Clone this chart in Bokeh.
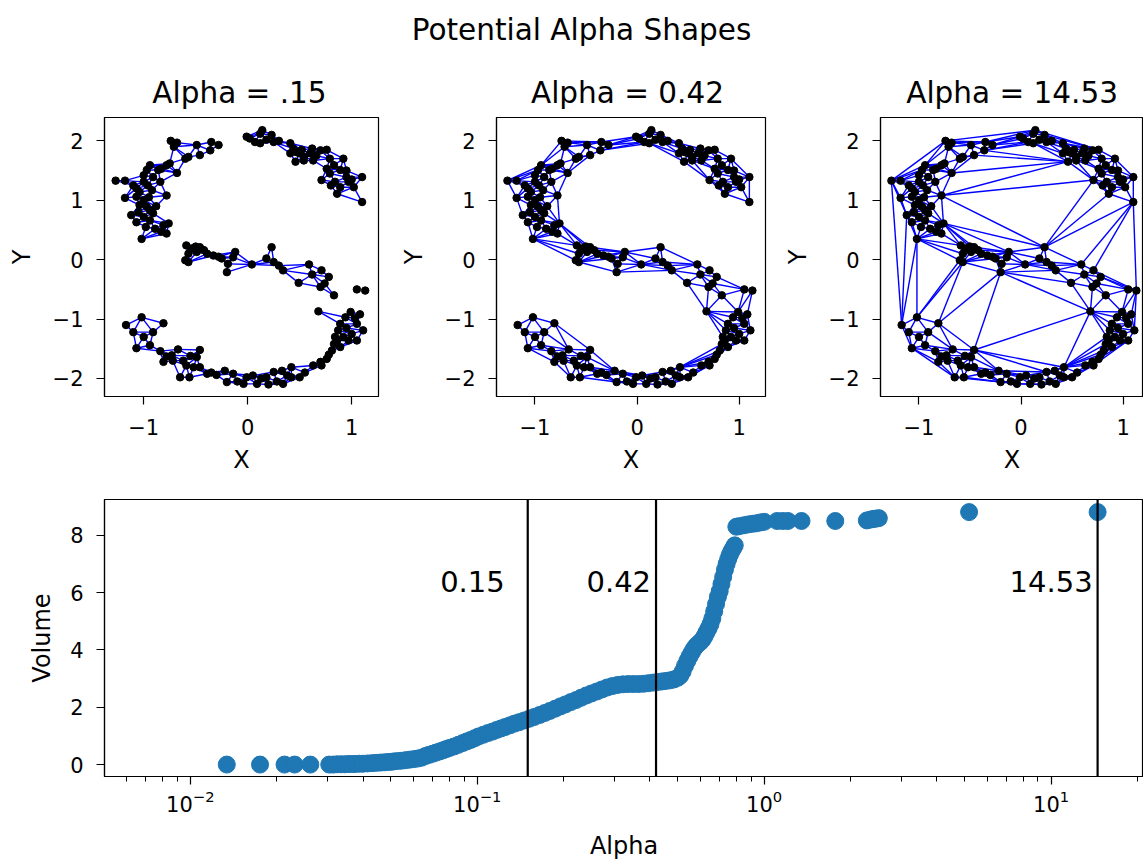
import math
from bokeh.plotting import figure
from bokeh.layouts import column, row
from bokeh.models import Range1d, FixedTicker, Span, LogTickFormatter, ColumnDataSource
from bokeh.core.properties import value
from bokeh.embed import file_html
from bokeh.resources import INLINE

FONT = "DejaVu Sans"

# ---------------- data: S-shaped point cloud ----------------
UL_X = [-0.74, -0.68, -0.71, -0.49, -0.46, -0.35, -0.28, -0.36, -0.57, -0.60, -0.75, -0.78, -0.94, -0.97, -0.86,
        -0.83, -0.68, -1.00, -0.91, -0.84, -1.27, -1.18, -1.00, -0.96, -1.07, -1.04, -0.92, -1.18, -0.78, -1.07,
        -1.00, -1.04, -0.97, -0.94, -0.91, -1.12, -1.00, -0.94, -1.07, -0.81, -0.76, -0.78, -0.83, -1.02, -0.89,
        -1.10, -0.95, -0.88, -1.05, -0.98]
UL_Y = [2.00, 1.97, 1.90, 1.93, 1.76, 1.98, 1.93, 1.84, 1.73, 1.70, 1.62, 1.59, 1.59, 1.51, 1.51,
        1.53, 1.46, 1.42, 1.39, 1.31, 1.33, 1.33, 1.31, 1.25, 1.20, 1.14, 1.17, 1.04, 1.08, 1.06,
        1.00, 0.92, 0.89, 0.83, 0.78, 0.75, 0.72, 0.66, 0.63, 0.58, 0.61, 0.44, 0.47, 0.35, 0.52,
        1.25, 1.05, 0.90, 0.80, 0.55]

UR_X = [0.14, 0.12, -0.01, 0.02, 0.07, 0.12, 0.18, 0.25, 0.23, 0.41, 0.44, 0.47, 0.41, 0.50, 0.54,
        0.62, 0.60, 0.70, 0.76, 0.63, 0.46, 0.54, 0.79, 0.92, 0.83, 0.76, 0.79, 0.89, 0.95, 1.10,
        0.71, 0.84, 0.97, 1.02, 0.89, 0.86, 1.10, 0.30, 0.52, 0.66, 0.95, 1.00, 0.80]
UR_Y = [2.18, 2.12, 2.07, 2.04, 1.98, 1.96, 2.02, 1.98, 2.10, 1.96, 1.87, 1.81, 1.79, 1.79, 1.73,
        1.87, 1.79, 1.84, 1.85, 1.67, 1.65, 1.67, 1.70, 1.70, 1.59, 1.53, 1.45, 1.51, 1.39, 1.39,
        1.34, 1.31, 1.31, 1.22, 1.22, 1.11, 0.97, 2.00, 1.85, 1.75, 1.50, 1.35, 1.25]

MID_X = [-0.59, -0.54, -0.46, -0.49, -0.57, -0.39, -0.33, -0.60, -0.57, -0.25, -0.12, -0.14, -0.19, -0.20, 0.04,
         0.23, 0.18, 0.25, 0.34, 0.59, 0.49, 0.71, 0.78, 0.70, 0.83, 1.05, 1.13, -0.50, -0.42, -0.28,
         0.30, 0.62, 0.74]
MID_Y = [0.24, 0.19, 0.21, 0.13, 0.10, 0.10, 0.07, -0.01, -0.04, 0.02, 0.13, 0.04, -0.07, -0.21, -0.08,
         0.21, 0.02, -0.04, -0.18, -0.08, -0.39, -0.18, -0.29, -0.46, -0.60, -0.50, -0.52, 0.22, 0.16, 0.05,
         -0.10, -0.25, -0.40]

LO_X = [-1.02, -1.17, -0.81, -1.10, -0.91, -1.00, -1.07, -0.94, -0.84, -0.67, -0.46, -0.78, -0.73, -0.81, -0.62,
        -0.59, -0.49, -0.52, -0.46, -0.65, -0.56, -0.39, -0.30, -0.22, -0.20, -0.14, -0.04, -0.01, 0.05, 0.09,
        0.18, 0.20, 0.25, 0.33, 0.34, 0.42, 0.42, 0.50, 0.63, 0.71, 0.76, 0.81, 0.83, 0.84, 0.87,
        0.89, 0.94, 0.99, 1.08, 1.05, 1.11, 1.00, 1.05, 0.97, 0.68, 0.89, 0.86,
        -0.72, -0.55, -0.35, -0.10, 0.13, 0.28, 0.38, 0.95, 1.03, 0.92, 0.78, 0.70, 0.55]
LO_Y = [-0.97, -1.10, -1.07, -1.22, -1.22, -1.30, -1.49, -1.44, -1.54, -1.51, -1.52, -1.63, -1.61, -1.72, -1.70,
        -1.78, -1.64, -1.81, -1.81, -1.98, -1.98, -1.92, -1.94, -1.87, -2.06, -1.92, -2.09, -1.98, -1.95, -2.09,
        -1.98, -2.10, -1.89, -1.87, -2.09, -1.81, -1.98, -1.98, -1.78, -1.78, -1.67, -1.53, -1.42, -1.30, -1.19,
        -1.08, -0.97, -0.88, -0.92, -1.08, -1.19, -1.25, -1.36, -1.36, -0.87, -1.47, -1.36,
        -1.70, -1.62, -1.90, -2.05, -2.00, -2.05, -1.95, -1.15, -0.98, -1.30, -1.60, -1.72, -1.90]

PANEL_ALPHAS = [0.15, 0.42, 14.53]
PANEL_TITLES = ["Alpha = .15", "Alpha = 0.42", "Alpha = 14.53"]
SUPTITLE = "Potential Alpha Shapes"

# ---------------- data: volume vs alpha ----------------
ALPHA = [0.0134, 0.0175, 0.0213, 0.0231, 0.0262,
         0.0305, 0.0315, 0.0325, 0.0335, 0.0345, 0.0355, 0.0365, 0.0375,
         0.0388, 0.0400, 0.0415, 0.0430, 0.0445, 0.0460, 0.0475, 0.0490, 0.0505, 0.0520,
         0.0540, 0.0560, 0.0580, 0.0600, 0.0620, 0.0640, 0.0660, 0.0680, 0.0700, 0.0720,
         0.0740, 0.0760, 0.0780, 0.0800, 0.0830, 0.0860, 0.0890, 0.0920, 0.0950, 0.0980,
         0.101, 0.105, 0.109, 0.113, 0.117, 0.121, 0.125, 0.130, 0.135, 0.140,
         0.146, 0.152, 0.158, 0.165, 0.172, 0.179, 0.187, 0.195, 0.203, 0.212,
         0.221, 0.230, 0.240, 0.250, 0.261, 0.272, 0.284, 0.296, 0.309, 0.322,
         0.336, 0.350, 0.365, 0.380, 0.395, 0.410, 0.425, 0.440, 0.455, 0.470,
         0.485, 0.500, 0.510, 0.520, 0.530, 0.540, 0.550, 0.560, 0.570, 0.580,
         0.590, 0.600, 0.610, 0.620, 0.630, 0.640, 0.650, 0.660, 0.670, 0.680,
         0.690, 0.700, 0.710, 0.720, 0.730, 0.740, 0.750, 0.760, 0.770, 0.780,
         0.790, 0.800, 0.820, 0.850, 0.880, 0.910, 0.940, 0.970, 1.000, 1.110,
         1.160, 1.210, 1.350, 1.770, 2.280, 2.350, 2.400, 2.450, 2.510, 5.180,
         14.53]
VOLUME = [0.0, 0.0, 0.0, 0.0, 0.0,
          0.00, 0.00, 0.01, 0.01, 0.01, 0.02, 0.02, 0.02,
          0.03, 0.03, 0.04, 0.05, 0.06, 0.07, 0.08, 0.09, 0.10, 0.12,
          0.13, 0.15, 0.17, 0.19, 0.21, 0.24, 0.30, 0.34, 0.38, 0.42,
          0.46, 0.50, 0.54, 0.58, 0.63, 0.69, 0.75, 0.81, 0.86, 0.92,
          0.98, 1.04, 1.10, 1.15, 1.21, 1.26, 1.31, 1.37, 1.43, 1.48,
          1.54, 1.60, 1.66, 1.73, 1.80, 1.87, 1.95, 2.03, 2.10, 2.18,
          2.25, 2.33, 2.41, 2.48, 2.55, 2.62, 2.69, 2.74, 2.78, 2.80,
          2.81, 2.81, 2.81, 2.82, 2.84, 2.86, 2.88, 2.90, 2.92, 2.94,
          2.97, 3.03, 3.10, 3.25, 3.45, 3.62, 3.78, 3.92, 4.05, 4.15,
          4.22, 4.28, 4.36, 4.48, 4.62, 4.75, 4.90, 5.10, 5.35, 5.60,
          5.85, 6.05, 6.30, 6.55, 6.80, 7.00, 7.18, 7.33, 7.45, 7.55,
          7.65, 8.30, 8.32, 8.35, 8.38, 8.40, 8.42, 8.45, 8.47, 8.50,
          8.50, 8.50, 8.50, 8.50, 8.52, 8.55, 8.57, 8.58, 8.60, 8.81,
          8.81]
LINE_LABELS = ["0.15", "0.42", "14.53"]
LABEL_GAP_PX = [-23, -5, -5]
LABEL_Y = 6.38

PTS_X = UL_X + UR_X + MID_X + LO_X
PTS_Y = UL_Y + UR_Y + MID_Y + LO_Y


# ---------------- Delaunay triangulation (Bowyer-Watson) ----------------
def circum(ax, ay, bx, by, cx, cy):
    d = 2.0 * (ax * (by - cy) + bx * (cy - ay) + cx * (ay - by))
    if abs(d) < 1e-14:
        return (0.0, 0.0, float("inf"))
    a2 = ax * ax + ay * ay
    b2 = bx * bx + by * by
    c2 = cx * cx + cy * cy
    ux = (a2 * (by - cy) + b2 * (cy - ay) + c2 * (ay - by)) / d
    uy = (a2 * (cx - bx) + b2 * (ax - cx) + c2 * (bx - ax)) / d
    return (ux, uy, (ax - ux) ** 2 + (ay - uy) ** 2)


def delaunay(xs, ys):
    n = len(xs)
    px = list(xs) + [-3000.0, 3000.0, 0.0]
    py = list(ys) + [-3000.0, -3000.0, 3000.0]
    tris = {(n, n + 1, n + 2): circum(px[n], py[n], px[n + 1], py[n + 1], px[n + 2], py[n + 2])}
    for i in range(n):
        x, y = px[i], py[i]
        bad = [t for t, (ux, uy, r2) in tris.items() if (x - ux) ** 2 + (y - uy) ** 2 < r2]
        cnt = {}
        for t in bad:
            for a, b in ((t[0], t[1]), (t[1], t[2]), (t[2], t[0])):
                k = (a, b) if a < b else (b, a)
                cnt[k] = cnt.get(k, 0) + 1
            del tris[t]
        for (a, b), c in cnt.items():
            if c == 1:
                tris[(a, b, i)] = circum(px[a], py[a], px[b], py[b], x, y)
    return [(t, math.sqrt(r2)) for t, (ux, uy, r2) in tris.items() if max(t) < n]


seen = set()
SX, SY = [], []
for x, y in zip(PTS_X, PTS_Y):
    if (x, y) not in seen:
        seen.add((x, y))
        SX.append(x)
        SY.append(y)

TRIS = delaunay(SX, SY)


def edges_for(alpha):
    es = set()
    for t, r in TRIS:
        if r < alpha:
            for a, b in ((t[0], t[1]), (t[1], t[2]), (t[2], t[0])):
                es.add((a, b) if a < b else (b, a))
    return dict(x0=[SX[a] for a, b in es], y0=[SY[a] for a, b in es],
                x1=[SX[b] for a, b in es], y1=[SY[b] for a, b in es])


def style_axis(ax, label, label_standoff, tick_standoff):
    ax.axis_label = label
    ax.axis_label_text_font = FONT
    ax.axis_label_text_font_size = "24px"
    ax.axis_label_text_font_style = "normal"
    ax.axis_label_text_color = "black"
    ax.axis_label_standoff = label_standoff
    ax.major_label_text_font = FONT
    ax.major_label_text_font_size = "21px"
    ax.major_label_text_color = "black"
    ax.major_label_standoff = tick_standoff
    ax.major_tick_out = 8
    ax.major_tick_in = 0
    ax.major_tick_line_color = "black"
    ax.major_tick_line_width = 1.2
    ax.minor_tick_in = 0
    ax.minor_tick_out = 5
    ax.minor_tick_line_color = "black"
    ax.minor_tick_line_width = 1.0
    ax.axis_line_color = "black"
    ax.axis_line_width = 1.2


TOTAL_W = 1143
LEFT = 104

# ---------------- header with titles (x/y in page pixels) ----------------
head = figure(width=TOTAL_W, height=112, title=None, x_range=Range1d(LEFT, TOTAL_W), y_range=Range1d(112, 0),
              output_backend="svg", toolbar_location=None, min_border_left=LEFT, min_border_right=0,
              min_border_top=0, min_border_bottom=0,
              x_axis_type=None, y_axis_type=None, outline_line_color=None)
head.grid.visible = False
head.text(x=[581], y=[29.5], text=[SUPTITLE], text_font=value(FONT), text_font_size="29.5px",
          text_align="center", text_baseline="alphabetic", text_color="black")
head.text(x=[239, 627, 1011.6], y=[92.8, 92.8, 92.8], text=PANEL_TITLES, text_font=value(FONT),
          text_font_size="29.5px", text_align="center", text_baseline="alphabetic", text_color="black")

# ---------------- three alpha-shape panels ----------------
panel_specs = [
    (396, 104, 18, (-1.377, 1.258)),
    (384, 96, 15, (-1.377, 1.258)),
    (363, 96, 0, (-1.377, 1.200)),
]
minus_x = {-1: "\u22121", 0: "0", 1: "1"}
minus_y = {-2: "\u22122", -1: "\u22121", 0: "0", 1: "1", 2: "2"}

panels = []
for (w, mbl, mbr, xr), a in zip(panel_specs, PANEL_ALPHAS):
    p = figure(width=w, height=372, title=None, x_range=Range1d(*xr), y_range=Range1d(-2.303, 2.393),
               output_backend="svg", toolbar_location=None,
               min_border_left=mbl, min_border_right=mbr, min_border_top=5, min_border_bottom=88)
    p.grid.visible = False
    p.outline_line_color = "black"
    p.outline_line_width = 1.2
    p.xaxis.ticker = FixedTicker(ticks=[-1, 0, 1])
    p.yaxis.ticker = FixedTicker(ticks=[-2, -1, 0, 1, 2])
    p.xaxis.major_label_overrides = minus_x
    p.yaxis.major_label_overrides = minus_y
    style_axis(p.xaxis[0], "X", 8, 14)
    style_axis(p.yaxis[0], "Y", 14, 13)
    src = ColumnDataSource(edges_for(a))
    p.segment(x0="x0", y0="y0", x1="x1", y1="y1", source=src, line_color="blue", line_width=1.4)
    p.scatter(SX, SY, size=7.5, color="black")
    panels.append(p)

# ---------------- volume vs alpha ----------------
minor = []
for dec in [0.001, 0.01, 0.1, 1.0, 10.0]:
    for m in range(2, 10):
        v = round(dec * m, 6)
        if 0.005023 < v < 21.0:
            minor.append(v)

p4 = figure(width=TOTAL_W, height=378, title=None, x_axis_type="log", x_range=Range1d(0.005023, 21.0),
            y_range=Range1d(-0.416, 9.25), output_backend="svg", toolbar_location=None,
            min_border_left=LEFT, min_border_right=0, min_border_top=15, min_border_bottom=84)
p4.grid.visible = False
p4.outline_line_color = "black"
p4.outline_line_width = 1.2
p4.xaxis.ticker = FixedTicker(ticks=[0.01, 0.1, 1, 10], minor_ticks=minor)
p4.xaxis.formatter = LogTickFormatter()
p4.yaxis.ticker = FixedTicker(ticks=[0, 2, 4, 6, 8])
style_axis(p4.xaxis[0], "Alpha", 17, 5)
style_axis(p4.yaxis[0], "Volume", 11, 13)

p4.scatter(ALPHA, VOLUME, size=17, color="#1f77b4")
for a in PANEL_ALPHAS:
    p4.add_layout(Span(location=a, dimension="height", line_color="black", line_width=2.2))
lab = ColumnDataSource(dict(x=PANEL_ALPHAS, y=[LABEL_Y] * 3, t=LINE_LABELS, dx=LABEL_GAP_PX))
p4.text(x="x", y="y", text="t", x_offset="dx", source=lab, text_font=value(FONT), text_font_size="29px",
        text_align="right", text_baseline="alphabetic", text_color="black")

layout = column(head, row(*panels), p4)
open("out.html", "w").write(file_html(layout, INLINE))
